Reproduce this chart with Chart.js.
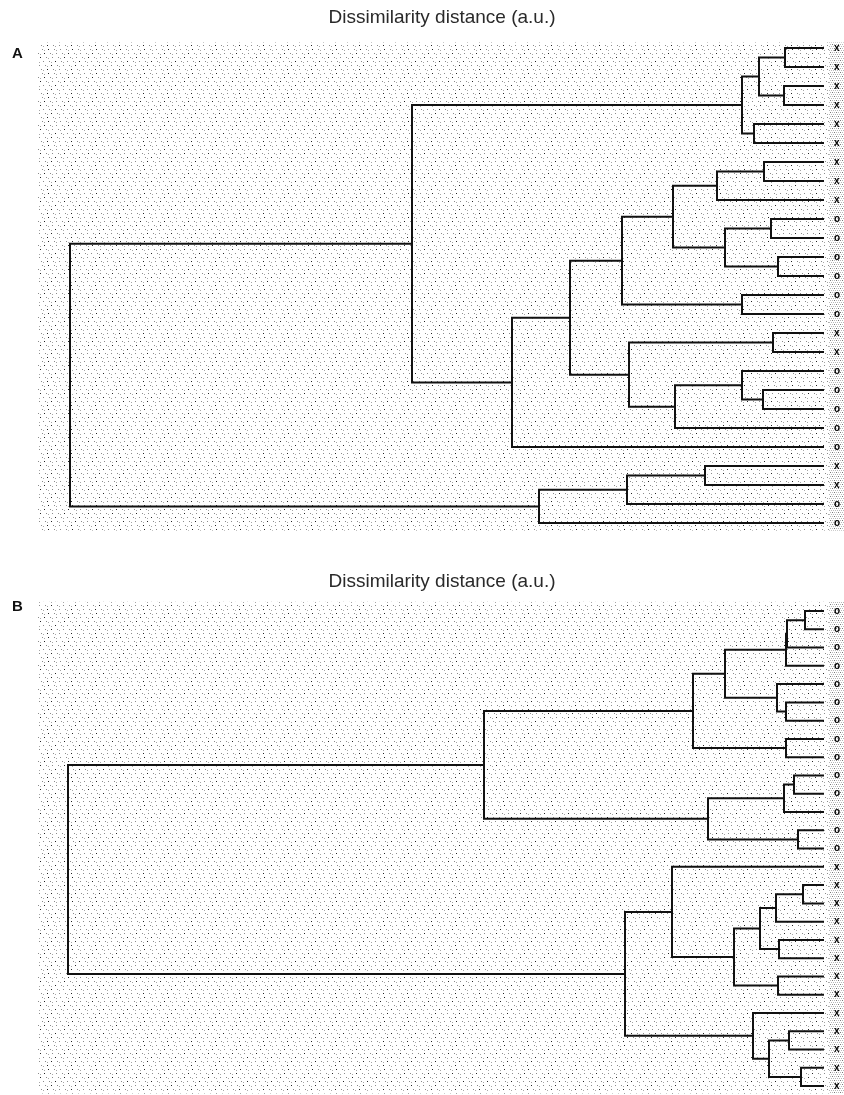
<!DOCTYPE html>
<html><head><meta charset="utf-8">
<script src="https://cdn.jsdelivr.net/npm/chart.js@4.4.1/dist/chart.umd.min.js"></script>
<style>
html,body{margin:0;padding:0;background:#fff;width:844px;height:1095px;overflow:hidden;}
.wrap{position:absolute;left:0;width:844px;}
.wrap canvas{display:block;}
.panel{position:absolute;left:12px;font:bold 15px 'Liberation Sans Narrow','Liberation Sans',Arial,sans-serif;color:#111;}
</style></head><body>
<div class="wrap" style="top:0;height:545px"><canvas id="chartA" width="844" height="545"></canvas></div>
<div class="wrap" style="top:564px;height:531px"><canvas id="chartB" width="844" height="531"></canvas></div>
<div class="panel" style="top:44px">A</div>
<div class="panel" style="top:597px">B</div>
<script>
// ---------- data ----------
const titleText = 'Dissimilarity distance (a.u.)';

// Panel A: leaf labels top to bottom
const leafLabelsA = ['x','x','x','x','x','x','x','x','x','o','o','o','o','o','o','x','x','o','o','o','o','o','x','x','o','o'];
// merges (scipy-style: index < n is a leaf, index >= n is merge n+k)
const mergeLeftA   = [0, 2, 26, 4, 28, 6, 31, 9, 11, 33, 32, 13, 36, 15, 18, 17, 41, 39, 38, 44, 30, 22, 47, 48, 46];
const mergeRightA  = [1, 3, 27, 5, 29, 7, 8, 10, 12, 34, 35, 14, 37, 16, 19, 40, 20, 42, 43, 21, 45, 23, 24, 25, 49];
const mergeHeightA = [0.39, 0.40, 0.65, 0.70, 0.82, 0.60, 1.07, 0.53, 0.46, 0.99, 1.51, 0.82, 2.02, 0.51, 0.61, 0.82, 1.49, 1.95, 2.54, 3.12, 4.12, 1.19, 1.97, 2.85, 7.54];

// Panel B
const leafLabelsB = ['o','o','o','o','o','o','o','o','o','o','o','o','o','o','x','x','x','x','x','x','x','x','x','x','x','x','x'];
const mergeLeftB   = [0, 27, 28, 5, 4, 29, 7, 32, 9, 35, 12, 36, 34, 15, 40, 18, 41, 20, 43, 14, 23, 25, 47, 22, 46, 39];
const mergeRightB  = [1, 2, 3, 6, 30, 31, 8, 33, 10, 11, 13, 37, 38, 16, 17, 19, 42, 21, 44, 45, 24, 26, 48, 49, 50, 51];
const mergeHeightB = [0.19, 0.37, 0.38, 0.38, 0.47, 0.99, 0.38, 1.31, 0.30, 0.40, 0.26, 1.16, 3.40, 0.21, 0.48, 0.45, 0.64, 0.46, 0.90, 1.52, 0.35, 0.23, 0.55, 0.71, 1.99, 7.56];

const xMax = 7.84; // a.u. range shown

// ---------- helpers ----------
function buildDatasets(labels, left, right, height) {
  const ypos = labels.map((_, i) => i);
  const hpos = labels.map(() => 0);
  const sets = [];
  for (let k = 0; k < left.length; k++) {
    const a = left[k], b = right[k], h = height[k];
    const ya = ypos[a], yb = ypos[b];
    sets.push({
      data: [{x: hpos[a], y: ya}, {x: h, y: ya}, {x: h, y: yb}, {x: hpos[b], y: yb}],
      showLine: true, borderColor: '#111', borderWidth: 2, pointRadius: 0,
      fill: false, tension: 0, borderJoinStyle: 'miter', borderCapStyle: 'square'
    });
    ypos.push((ya + yb) / 2);
    hpos.push(h);
  }
  return sets;
}

function makeTile(dense) {
  const c = document.createElement('canvas');
  c.width = 24; c.height = 24;
  const g = c.getContext('2d');
  if (dense) {
    for (let y = 0; y < 24; y += 2) {
      for (let x = (y / 2) % 2; x < 24; x += 2) {
        g.fillStyle = ((x + y) % 6 === 0) ? '#7a7a7a' : '#b8b8b8';
        g.fillRect(x, y, 1, 1);
      }
    }
  } else {
    const offs = [0, 2, 4, 1, 3, 5];
    for (let r = 0; r < 6; r++) {
      const y = r * 4 + 1;
      for (let j = 0; j < 4; j++) {
        const x = (offs[r] + j * 6) % 24;
        g.fillStyle = ((r + j) % 4 === 0) ? '#222' : '#8a8a8a';
        g.fillRect(x, y, 1, 1);
        if ((r + j) % 2 === 1) { g.fillStyle = '#a8a8a8'; g.fillRect((x + 2) % 24, y + 1, 1, 1); }
      }
    }
  }
  return c;
}

const stipple = {
  id: 'stipple',
  beforeDraw(chart) {
    const ctx = chart.ctx, a = chart.chartArea;
    ctx.save();
    ctx.fillStyle = '#fff';
    ctx.fillRect(0, 0, chart.width, chart.height);
    ctx.fillStyle = ctx.createPattern(makeTile(false), 'repeat');
    ctx.fillRect(38, a.top, a.right + 5 - 38, a.bottom - a.top);
    ctx.fillStyle = ctx.createPattern(makeTile(true), 'repeat');
    ctx.fillRect(a.right + 5, a.top, chart.width - a.right - 5, a.bottom - a.top);
    ctx.restore();
  }
};

function makeChart(id, labels, left, right, height, yMin, yMax, padTop, padBottom, layoutBottom) {
  return new Chart(document.getElementById(id), {
    type: 'scatter',
    data: { datasets: buildDatasets(labels, left, right, height) },
    options: {
      responsive: false, animation: false, devicePixelRatio: 1,
      layout: { padding: { left: 40, right: 0, top: 0, bottom: layoutBottom } },
      plugins: {
        legend: { display: false }, tooltip: { enabled: false },
        title: {
          display: true, text: titleText, color: '#2a2a2a',
          font: { family: "'Liberation Sans Narrow', 'Liberation Sans', Arial, sans-serif", size: 19, weight: 'normal' },
          padding: { top: padTop, bottom: padBottom }
        }
      },
      scales: {
        x: { type: 'linear', min: 0, max: xMax, reverse: true, display: false },
        y: {
          type: 'linear', min: yMin, max: yMax, reverse: true, position: 'right',
          grid: { display: false, drawTicks: false }, border: { display: false },
          afterBuildTicks: s => { s.ticks = labels.map((_, i) => ({ value: i })); },
          afterFit: s => { s.width = 20; s.paddingTop = 0; s.paddingBottom = 0; },
          ticks: {
            padding: 10, color: '#000', autoSkip: false,
            font: { family: "'Liberation Sans', Arial, sans-serif", size: 10, weight: 'bold' },
            callback: (v) => labels[v] !== undefined ? labels[v] : ''
          }
        }
      }
    },
    plugins: [stipple]
  });
}

makeChart('chartA', leafLabelsA, mergeLeftA, mergeRightA, mergeHeightA, -0.3, 25.4, 6, 13.6, 14.3);
makeChart('chartB', leafLabelsB, mergeLeftB, mergeRightB, mergeHeightB, -0.5, 26.4, 6, 9.1, 1.6);
</script>
</body></html>
